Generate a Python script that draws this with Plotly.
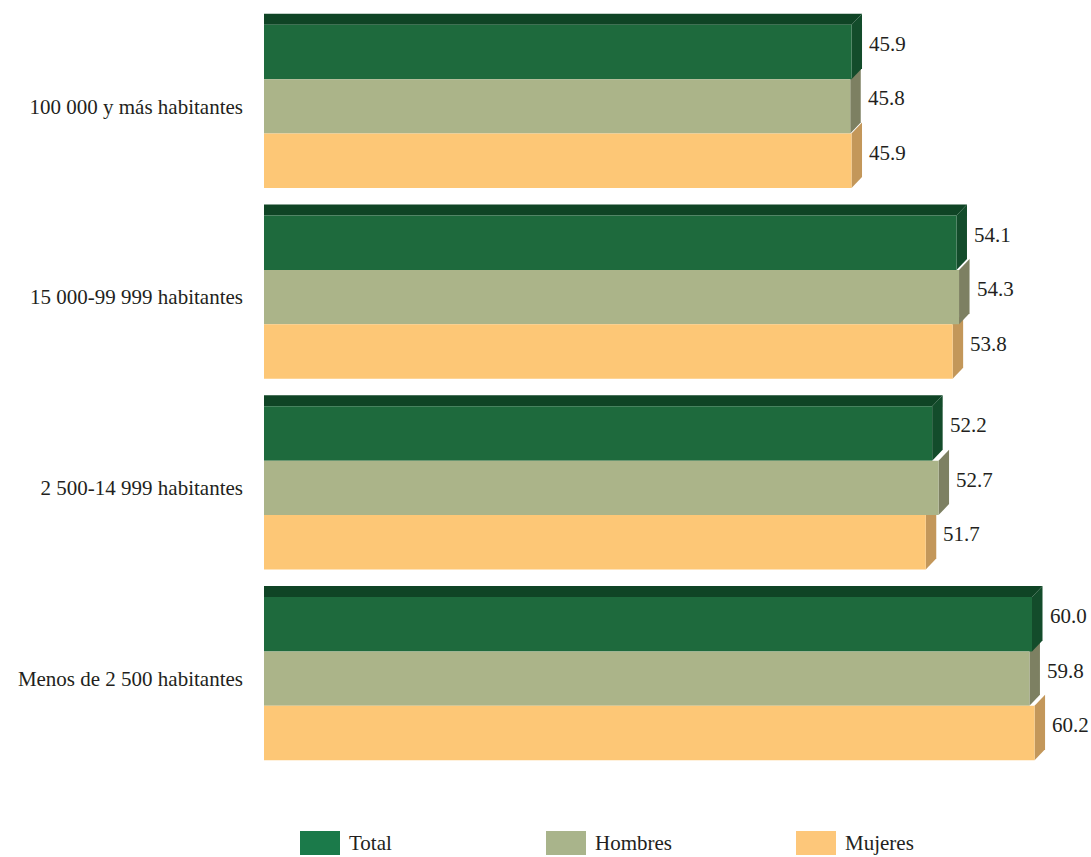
import plotly.graph_objects as go

# ---------------- data ----------------
categories = [
    "100 000 y más habitantes",
    "15 000-99 999 habitantes",
    "2 500-14 999 habitantes",
    "Menos de 2 500 habitantes",
]
series_names = ["Total", "Hombres", "Mujeres"]
total = [45.9, 54.1, 52.2, 60.0]
hombres = [45.8, 54.3, 52.7, 59.8]
mujeres = [45.9, 53.8, 51.7, 60.2]

# ---------------- style ----------------
front_colors = ["#1e6a3d", "#abb489", "#fdc776"]
side_colors = ["#134c2b", "#7d8062", "#c3975a"]
top_colors = ["#0f4425", "#8f9370", "#d9ab62"]
legend_colors = ["#1b7a4a", "#a9b48b", "#fdc77a"]
FONT = "Liberation Serif, Times New Roman, serif"
TEXT_COLOR = "#231f20"

W, H = 1091, 857
PLOT_L, PLOT_R, PLOT_T, PLOT_B = 264, 1073, 11, 774  # page pixels
ML, MT = PLOT_L, PLOT_T
MR, MB = W - PLOT_R, H - PLOT_B
PLOT_W = W - ML - MR
PLOT_H = H - MT - MB
PX_PER_UNIT = 12.8
X_MAX = PLOT_W / PX_PER_UNIT
BARGAP = 0.143
N_SERIES = len(series_names)
BAR_W = (1 - BARGAP) / N_SERIES
Y_UNIT_PX = PLOT_H / len(categories)

DEPTH_X_PX, DEPTH_Y_PX = 10.5, 11
DX = DEPTH_X_PX / PX_PER_UNIT
DY = DEPTH_Y_PX / Y_UNIT_PX

series_values = [total, hombres, mujeres]
positions = list(range(len(categories)))

fig = go.Figure()
for name, vals, col in zip(series_names, series_values, front_colors):
    fig.add_trace(go.Bar(
        name=name, x=vals, y=positions, orientation="h",
        marker=dict(color=col, line=dict(width=0)),
        hovertemplate="%{x:.1f}<extra>" + name + "</extra>",
        showlegend=False,
    ))

shapes = []
annotations = []
for i in positions:
    bars = []
    for j, vals in enumerate(series_values):
        yc = i + (j - (N_SERIES - 1) / 2) * BAR_W
        bars.append((vals[i], j, yc))
    # side faces: shorter first, longer drawn over
    for v, j, yc in sorted(bars, key=lambda b: b[0]):
        top = yc - BAR_W / 2
        bot = yc + BAR_W / 2
        path = (f"M {v},{top} L {v + DX},{top - DY} L {v + DX},{bot - DY} "
                f"L {v},{bot} Z")
        shapes.append(dict(type="path", path=path, xref="x", yref="y",
                           fillcolor=side_colors[j], line=dict(width=0),
                           layer="below"))
    # top face of the uppermost bar in the group
    v, j, yc = bars[0]
    top = yc - BAR_W / 2
    path = (f"M 0,{top} L 0,{top - DY} L {v + DX},{top - DY} L {v},{top} Z")
    shapes.append(dict(type="path", path=path, xref="x", yref="y",
                       fillcolor=top_colors[j], line=dict(width=0),
                       layer="below"))
    # value labels
    for v, j, yc in bars:
        annotations.append(dict(
            x=v, y=yc, xref="x", yref="y", text=f"{v:.1f}",
            showarrow=False, xanchor="left", yanchor="middle",
            xshift=DEPTH_X_PX + 5, yshift=8,
            font=dict(family=FONT, size=21, color=TEXT_COLOR),
        ))

# custom legend (paper coordinates derived from page-pixel layout)
def px_x(px):
    return (px - PLOT_L) / PLOT_W

def px_y(py):
    return (PLOT_B - py) / PLOT_H

legend_x_px = [300, 546, 796]
for name, col, lx in zip(series_names, legend_colors, legend_x_px):
    shapes.append(dict(type="rect", xref="paper", yref="paper",
                       x0=px_x(lx), x1=px_x(lx + 40),
                       y0=px_y(855), y1=px_y(831),
                       fillcolor=col, line=dict(width=0)))
    annotations.append(dict(x=px_x(lx + 47), y=px_y(843), xref="paper",
                            yref="paper", text=name, showarrow=False,
                            xanchor="left", yanchor="middle",
                            font=dict(family=FONT, size=21, color=TEXT_COLOR)))

fig.update_layout(
    width=W, height=H,
    margin=dict(l=ML, r=MR, t=MT, b=MB, pad=0),
    barmode="group", bargap=BARGAP, bargroupgap=0,
    plot_bgcolor="white", paper_bgcolor="white",
    showlegend=False,
    shapes=shapes, annotations=annotations,
    xaxis=dict(range=[0, X_MAX], visible=False, showgrid=False,
               zeroline=False, fixedrange=True),
    yaxis=dict(range=[len(categories) - 0.5, -0.5], tickvals=positions,
               ticktext=categories, showgrid=False, zeroline=False,
               showline=False, ticks="", ticklabelstandoff=20,
               tickfont=dict(family=FONT, size=21, color=TEXT_COLOR),
               fixedrange=True),
    font=dict(family=FONT, color=TEXT_COLOR),
)

fig.write_html(
    "out.html",
    config={"displayModeBar": False},
    post_script="document.body.style.margin='0';document.body.style.overflow='hidden';",
)
